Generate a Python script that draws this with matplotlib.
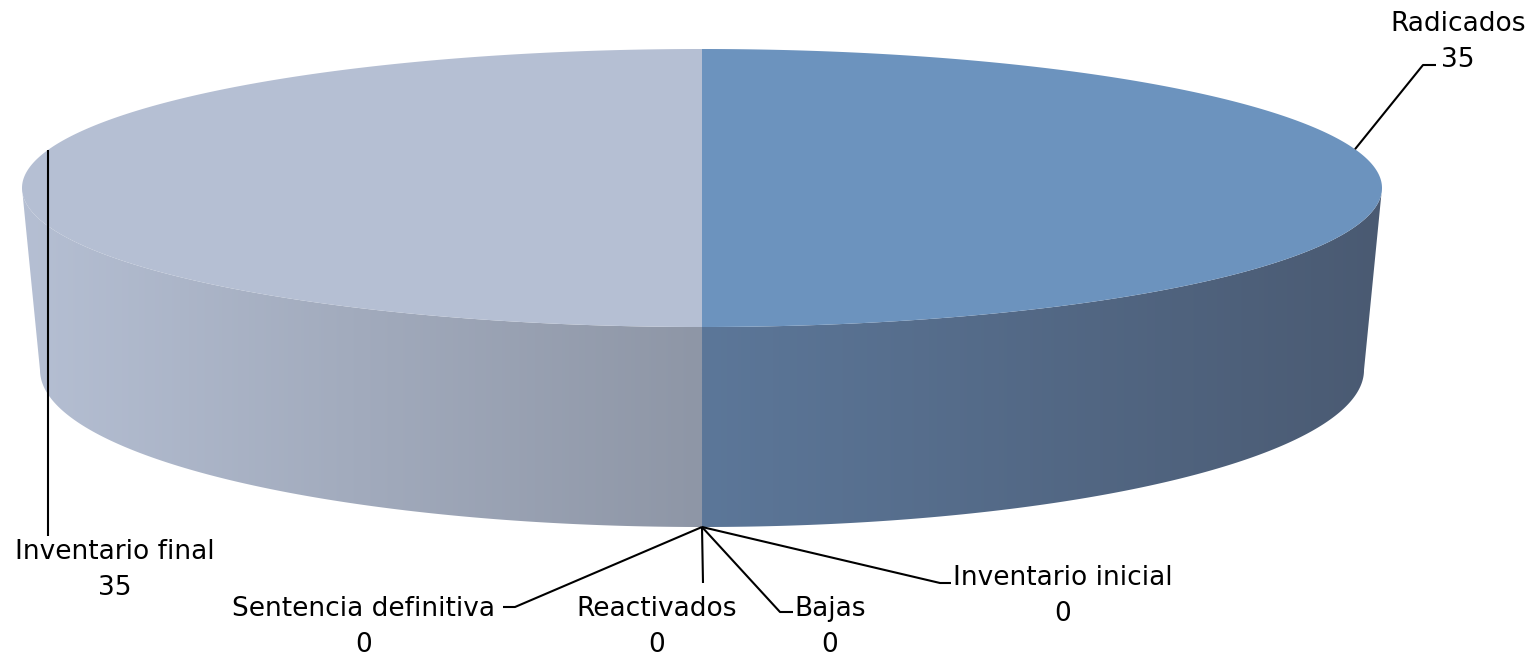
import numpy as np
import matplotlib
matplotlib.use("Agg")
import matplotlib.pyplot as plt
from matplotlib.patches import Polygon
from matplotlib.colors import LinearSegmentedColormap

# ---- data ----
categories = ["Radicados", "Inventario inicial", "Bajas", "Reactivados",
              "Sentencia definitiva", "Inventario final"]
values = [35, 0, 0, 0, 0, 35]

# ---- style ----
top_colors = {"Radicados": "#6C93BE", "Inventario final": "#B5BFD3"}
side_grad = {"Radicados": ["#5C7799", "#4A5A72"],        # from centre to right
             "Inventario final": ["#B5BFD3", "#8E96A6"]}  # from left to centre
W, H = 1539, 658
fig = plt.figure(figsize=(W / 100, H / 100), dpi=100)
ax = fig.add_axes([0, 0, 1, 1])
ax.set_xlim(0, W)
ax.set_ylim(H, 0)
ax.axis("off")

FONT = "DejaVu Sans"
FS = 19

cx = 702
top_c, top_a, top_b = 188, 680, 139
bot_c, bot_a, bot_b = 370, 662, 157


def top_pt(t):
    return cx + top_a * np.cos(t), top_c + top_b * np.sin(t)


def bot_pt(t):
    return cx + bot_a * np.cos(t), bot_c + bot_b * np.sin(t)


total = float(sum(values))
start = -np.pi / 2
angles = []
acc = start
for v in values:
    t0 = acc
    t1 = acc + 2 * np.pi * v / total
    angles.append((t0, t1))
    acc = t1

# side faces (front half t in [0, pi])
for cat, v, (t0, t1) in zip(categories, values, angles):
    if v == 0:
        continue
    best = None
    for shift in (-2 * np.pi, 0, 2 * np.pi):
        a0, a1 = max(t0 + shift, 0), min(t1 + shift, np.pi)
        if a1 > a0:
            best = (a0, a1)
    if best is None:
        continue
    a0, a1 = best
    ts = np.linspace(a0, a1, 200)
    tx, ty = top_pt(ts)
    bx, by = bot_pt(ts[::-1])
    verts = np.column_stack([np.r_[tx, bx], np.r_[ty, by]])
    poly = Polygon(verts, closed=True, facecolor="none", edgecolor="none")
    ax.add_patch(poly)
    x0, x1 = verts[:, 0].min(), verts[:, 0].max()
    y0, y1 = verts[:, 1].min(), verts[:, 1].max()
    cmap = LinearSegmentedColormap.from_list("g", side_grad[cat])
    grad = np.linspace(0, 1, 256)[None, :]
    im = ax.imshow(grad, cmap=cmap, extent=(x0, x1, y1, y0), aspect="auto",
                   interpolation="bilinear", zorder=1)
    im.set_clip_path(poly)

# top faces
for cat, v, (t0, t1) in zip(categories, values, angles):
    if v == 0:
        continue
    ts = np.linspace(t0, t1, 300)
    tx, ty = top_pt(ts)
    verts = np.column_stack([np.r_[cx, tx], np.r_[top_c, ty]])
    ax.add_patch(Polygon(verts, closed=True, facecolor=top_colors[cat],
                         edgecolor="none", zorder=2))

# ---- labels with leader lines ----
lab_pos = {
    "Radicados": (1458, 42),
    "Inventario final": (115, 570),
    "Inventario inicial": (1063, 596),
    "Bajas": (830, 627),
    "Reactivados": (657, 627),
    "Sentencia definitiva": (364, 627),
}
elbows = {
    "Radicados": [(1423, 65), (1436, 65)],
    "Inventario final": [(48, 536)],
    "Inventario inicial": [(940, 583), (951, 583)],
    "Bajas": [(780, 612), (793, 612)],
    "Reactivados": [(703, 583)],
    "Sentencia definitiva": [(515, 607), (503, 607)],
}
anchor_t = {"Radicados": -0.09 * np.pi, "Inventario final": np.pi + 0.088 * np.pi}
for cat, v in zip(categories, values):
    if v == 0:
        ax_pt = bot_pt(np.pi / 2)
    else:
        ax_pt = top_pt(anchor_t[cat])
    pts = [ax_pt] + elbows[cat]
    xs, ys = zip(*pts)
    if cat == "Inventario final":
        xs = (xs[1], xs[1])
    ax.plot(xs, ys, color="black", lw=1.5, zorder=3, solid_capstyle="butt")
    x, y = lab_pos[cat]
    ax.text(x, y, f"{cat}\n{v}", ha="center", va="center", fontsize=FS,
            family=FONT, linespacing=1.5, color="black", zorder=4)

fig.savefig("out.png", dpi=100, facecolor="white")
